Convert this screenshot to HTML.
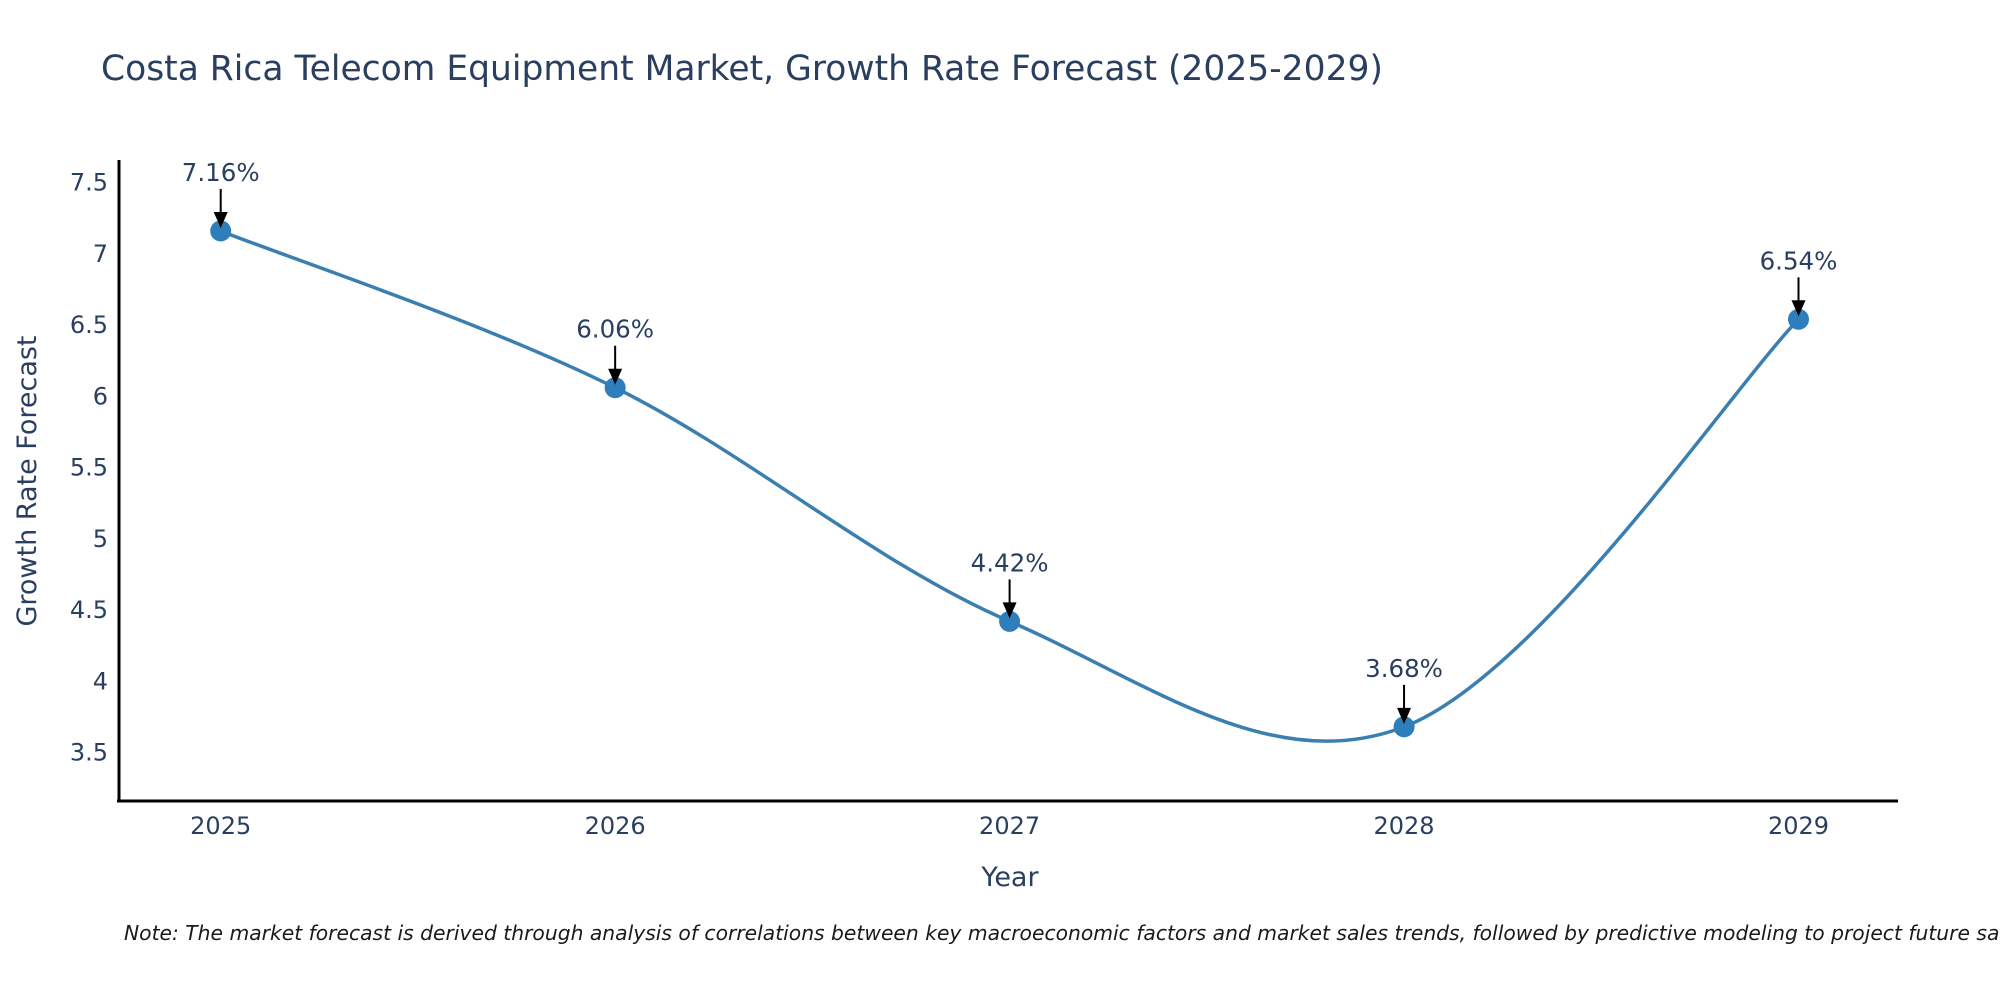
<!DOCTYPE html>
<html><head><meta charset="utf-8"><style>
body{margin:0;background:#fff}
svg text{font-family:"DejaVu Sans","Liberation Sans",sans-serif;fill:#2a3f5f}
</style></head><body>
<svg id="chart" width="2000" height="1000" xmlns="http://www.w3.org/2000/svg">
<text x="101" y="80" font-size="34.5">Costa Rica Telecom Equipment Market, Growth Rate Forecast (2025-2029)</text>
<g id="yticks"></g><g id="xticks"></g>
<line x1="119" y1="160" x2="119" y2="802" stroke="#000" stroke-width="3"/>
<line x1="117" y1="801" x2="1898" y2="801" stroke="#000" stroke-width="3"/>
<path id="line" fill="none" stroke="#3a7fb0" stroke-width="3.5"/>
<g id="marks"></g>
<text x="1010" y="886" font-size="27" text-anchor="middle">Year</text>
<text transform="translate(36,481) rotate(-90)" font-size="27" text-anchor="middle">Growth Rate Forecast</text>
<text x="124" y="940" font-size="20.3" font-style="italic" fill="#1a1a1a" style="fill:#1a1a1a">Note: The market forecast is derived through analysis of correlations between key macroeconomic factors and market sales trends, followed by predictive modeling to project future sales.</text>
</svg>
<script>
const years=[2025,2026,2027,2028,2029];
const rates=[7.16,6.06,4.42,3.68,6.54];
const labels=["7.16%","6.06%","4.42%","3.68%","6.54%"];
const yTicks=[3.5,4,4.5,5,5.5,6,6.5,7,7.5];
const yTickLabels=["3.5","4","4.5","5","5.5","6","6.5","7","7.5"];
const NS="http://www.w3.org/2000/svg";
const X=v=>220.7+(v-2025)*394.45;
const Y=v=>752.5-(v-3.5)*142.5;
function mk(t,a,p){const e=document.createElementNS(NS,t);for(const k in a)e.setAttribute(k,a[k]);(p||document.getElementById('chart')).appendChild(e);return e;}
const yg=document.getElementById('yticks');
yTicks.forEach((v,i)=>{const t=mk('text',{x:108,y:Y(v)+8,'font-size':24,'text-anchor':'end'},yg);t.textContent=yTickLabels[i];

});
const xg=document.getElementById('xticks');
years.forEach(v=>{const t=mk('text',{x:X(v),y:834,'font-size':24,'text-anchor':'middle'},xg);t.textContent=v;

});
const P=years.map((y,i)=>[X(y),Y(rates[i])]);
let d=`M${P[0][0]},${P[0][1]}`;const s=0.17;
for(let i=0;i<P.length-1;i++){const p0=P[Math.max(i-1,0)],p1=P[i],p2=P[i+1],p3=P[Math.min(i+2,P.length-1)];
const c1=[p1[0]+(p2[0]-p0[0])*s,p1[1]+(p2[1]-p0[1])*s],c2=[p2[0]-(p3[0]-p1[0])*s,p2[1]-(p3[1]-p1[1])*s];
d+=` C${c1[0]},${c1[1]} ${c2[0]},${c2[1]} ${p2[0]},${p2[1]}`;}
document.getElementById('line').setAttribute('d',d);
const mg=document.getElementById('marks');
P.forEach((p,i)=>{const c=mk('circle',{cx:p[0],cy:p[1],r:10.5,fill:'#2f7ebc'},mg);


const a=mk('line',{x1:p[0],y1:p[1]-42,x2:p[0],y2:p[1]-16,stroke:'#000','stroke-width':2},mg);


const h=mk('polygon',{points:`${p[0]-7},${p[1]-19} ${p[0]+7},${p[1]-19} ${p[0]},${p[1]-3}`,fill:'#000'},mg);


const t=mk('text',{x:p[0],y:p[1]-50,'font-size':24.5,'text-anchor':'middle'},mg);t.textContent=labels[i];

});
</script>
</body></html>
